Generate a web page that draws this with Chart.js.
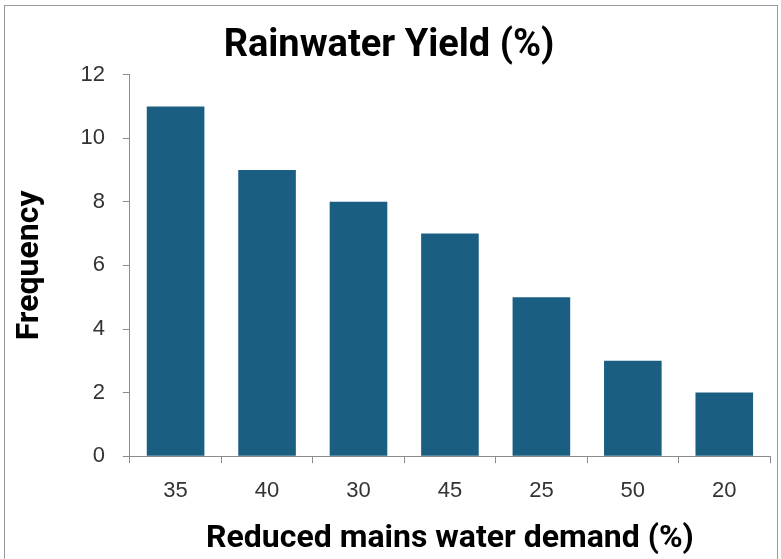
<!DOCTYPE html>
<html>
<head>
<meta charset="utf-8">
<script src="https://cdn.jsdelivr.net/npm/chart.js@4"></script>
<style>
  html, body { margin: 0; padding: 0; background: #fff; }
  #wrap { position: relative; width: 781px; height: 559px; }
  #frame { position: absolute; left: 4px; top: 5px; width: 774px; height: 560px; border: 1px solid #9a9a9a; box-sizing: border-box; pointer-events: none; }
</style>
</head>
<body>
<div id="wrap">
  <canvas id="yieldChart" width="781" height="559"></canvas>
  <div id="frame"></div>
</div>
<script>
const categories = ['35', '40', '30', '45', '25', '50', '20'];
const frequency = [11, 9, 8, 7, 5, 3, 2];
const yTicks = [0, 2, 4, 6, 8, 10, 12];

const tickFont = { family: 'Liberation Sans, Arial, sans-serif', size: 22 };
const boldFont = { family: 'Roboto, sans-serif', weight: 'bold' };

const ctx = document.getElementById('yieldChart').getContext('2d');
new Chart(ctx, {
  type: 'bar',
  data: {
    labels: categories,
    datasets: [{
      data: frequency,
      backgroundColor: '#1a5e82',
      borderWidth: 0,
      categoryPercentage: 1,
      barPercentage: 0.63
    }]
  },
  options: {
    responsive: false,
    animation: false,
    layout: { padding: { left: 8, right: 11, top: 18, bottom: 1 } },
    plugins: {
      legend: { display: false },
      tooltip: { enabled: false },
      title: {
        display: true,
        text: 'Rainwater Yield (%)',
        color: '#000',
        font: { ...boldFont, size: 38 },
        padding: { top: 6, bottom: 5 }
      }
    },
    scales: {
      x: {
        offset: true,
        grid: { display: true, drawOnChartArea: false, offset: true, tickLength: 7, color: '#8c8c8c' },
        border: { color: '#8c8c8c' },
        ticks: { color: '#333', font: tickFont, padding: 15 },
        title: {
          display: true,
          text: 'Reduced mains water demand (%)',
          color: '#000',
          font: { ...boldFont, size: 32 },
          padding: { top: 0, bottom: 0 }
        }
      },
      y: {
        min: 0,
        max: 12,
        afterBuildTicks: axis => { axis.ticks = yTicks.map(v => ({ value: v })); },
        grid: { display: true, drawOnChartArea: false, tickLength: 7, color: '#8c8c8c' },
        border: { color: '#8c8c8c' },
        ticks: { color: '#333', font: tickFont, padding: 18 },
        title: {
          display: true,
          text: 'Frequency',
          color: '#000',
          font: { ...boldFont, size: 32 },
          padding: { top: 3, bottom: 13 }
        }
      }
    }
  }
});
</script>
</body>
</html>
